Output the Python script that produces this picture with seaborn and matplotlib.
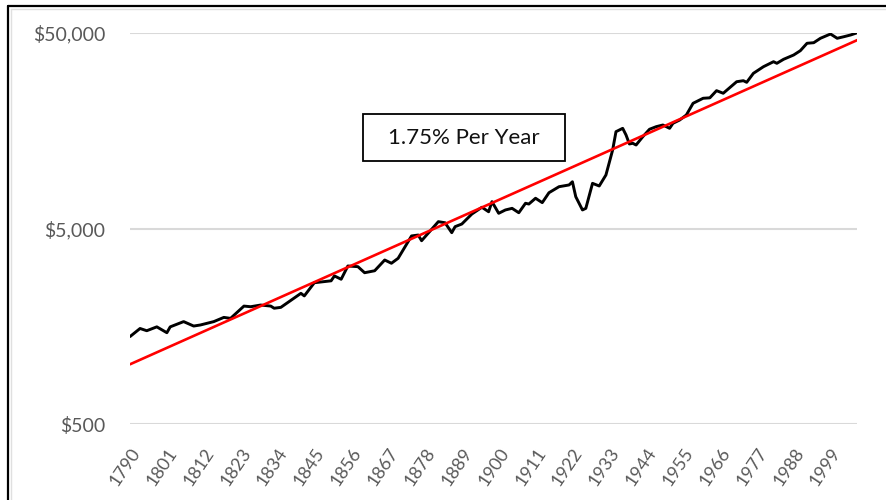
import matplotlib
matplotlib.use('Agg')
import matplotlib.pyplot as plt
import seaborn as sns
import pandas as pd
from matplotlib.ticker import FixedLocator, FixedFormatter
from matplotlib.lines import Line2D
from matplotlib.patches import Rectangle

years = [1790, 1793, 1795, 1798, 1801, 1802, 1806, 1809, 1811, 1815, 1818, 1820,
         1824, 1826, 1829, 1832, 1833, 1835, 1841, 1842, 1845, 1850, 1851, 1853,
         1855, 1858, 1860, 1863, 1866, 1868, 1870, 1874, 1876, 1877, 1882, 1884,
         1886, 1887, 1889, 1892, 1895, 1897, 1898, 1900, 1902, 1904, 1906, 1908,
         1909, 1911, 1913, 1915, 1918, 1921, 1922, 1923, 1925, 1926, 1928, 1930,
         1932, 1934, 1935, 1937, 1938, 1939, 1940, 1941, 1943, 1945, 1947, 1949,
         1951, 1952, 1954, 1956, 1958, 1961, 1963, 1965, 1967, 1971, 1973, 1974,
         1976, 1979, 1982, 1983, 1985, 1988, 1990, 1992, 1994, 1996, 1999, 2001,
         2003, 2005, 2007]
gdp = [1400, 1540, 1500, 1570, 1465, 1570, 1670, 1585, 1605, 1670, 1755, 1735,
       2005, 1990, 2030, 2005, 1955, 1975, 2330, 2260, 2640, 2700, 2860, 2750,
       3215, 3190, 2970, 3040, 3450, 3320, 3520, 4580, 4630, 4330, 5420, 5350,
       4760, 5110, 5270, 5930, 6420, 6090, 6860, 5980, 6220, 6340, 6020, 6730,
       6670, 7140, 6780, 7620, 8180, 8350, 8670, 7270, 6220, 6340, 8510, 8250,
       9390, 12600, 15640, 16270, 15040, 13530, 13640, 13370, 14740, 16090, 16590, 16920,
       16270, 17260, 17940, 19040, 21850, 23180, 23300, 25350, 24590, 28170, 28510, 27970,
       31100, 33620, 35660, 34990, 36680, 38580, 40590, 44300, 44600, 46980, 49420, 46980,
       47870, 48840, 50170]

# 1.75% per year trend line end points
trend_years = [1790, 2007]
trend_values = [1010, 46000]

tick_years = list(range(1790, 2000, 11))
y_ticks = [500, 5000, 50000]
y_labels = ['$500', '$5,000', '$50,000']
trend_label = '1.75% Per Year'

sns.set_theme(style='white')
plt.rcParams['font.family'] = ['Lato', 'DejaVu Sans']

df = pd.DataFrame({'year': years, 'gdp': gdp})
df_trend = pd.DataFrame({'year': trend_years, 'gdp': trend_values})

fig = plt.figure(figsize=(8.87, 5), dpi=100)
ax = fig.add_axes([130 / 887, 1 - 424 / 500, 727.3 / 887, 391 / 500])

sns.lineplot(data=df, x='year', y='gdp', ax=ax, color='black', linewidth=2.1)
sns.lineplot(data=df_trend, x='year', y='gdp', ax=ax, color='#ff0000', linewidth=1.9)

ax.set_yscale('log')
ax.set_ylim(500, 50000)
ax.set_xlim(1790, 2007)
ax.yaxis.set_major_locator(FixedLocator(y_ticks))
ax.yaxis.set_major_formatter(FixedFormatter(y_labels))
ax.yaxis.set_minor_locator(FixedLocator([]))
ax.set_xticks(tick_years)
ax.set_xticklabels([str(y) for y in tick_years])
ax.set_xlabel('')
ax.set_ylabel('')

for v in y_ticks:
    ax.axhline(v, color='#d9d9d9', linewidth=1.5, zorder=0)

for s in ax.spines.values():
    s.set_visible(False)

ax.tick_params(axis='y', length=0, pad=18, labelsize=14, labelcolor='#595959')
ax.tick_params(axis='x', length=0, pad=15, labelsize=13, labelcolor='#595959')
for lab in ax.get_xticklabels():
    lab.set_rotation(56)
    lab.set_rotation_mode('anchor')
    lab.set_ha('right')
    lab.set_va('top')

# text box
ax.add_patch(Rectangle((0.3204, 0.6726), 0.2777, 0.1202, transform=ax.transAxes,
                       facecolor='white', edgecolor='black', linewidth=1.3, zorder=5))
ax.text(0.3204 + 0.2777 / 2, 0.6726 + 0.1202 / 2, trend_label, transform=ax.transAxes,
        ha='center', va='center', fontsize=16, color='#111111', zorder=6)

# outer frame of the screenshot
fig.add_artist(Line2D([8 / 887, 8 / 887], [0, 1 - 6 / 500], color='black', linewidth=1.6))
fig.add_artist(Line2D([8 / 887, 1], [1 - 6 / 500, 1 - 6 / 500], color='black', linewidth=1.6))
fig.add_artist(Line2D([11 / 887, 11 / 887], [0, 1 - 9 / 500], color='#e0e0e0', linewidth=1.0))
fig.add_artist(Line2D([11 / 887, 1], [1 - 9 / 500, 1 - 9 / 500], color='#e0e0e0', linewidth=1.0))

fig.savefig('out.png', dpi=100)
